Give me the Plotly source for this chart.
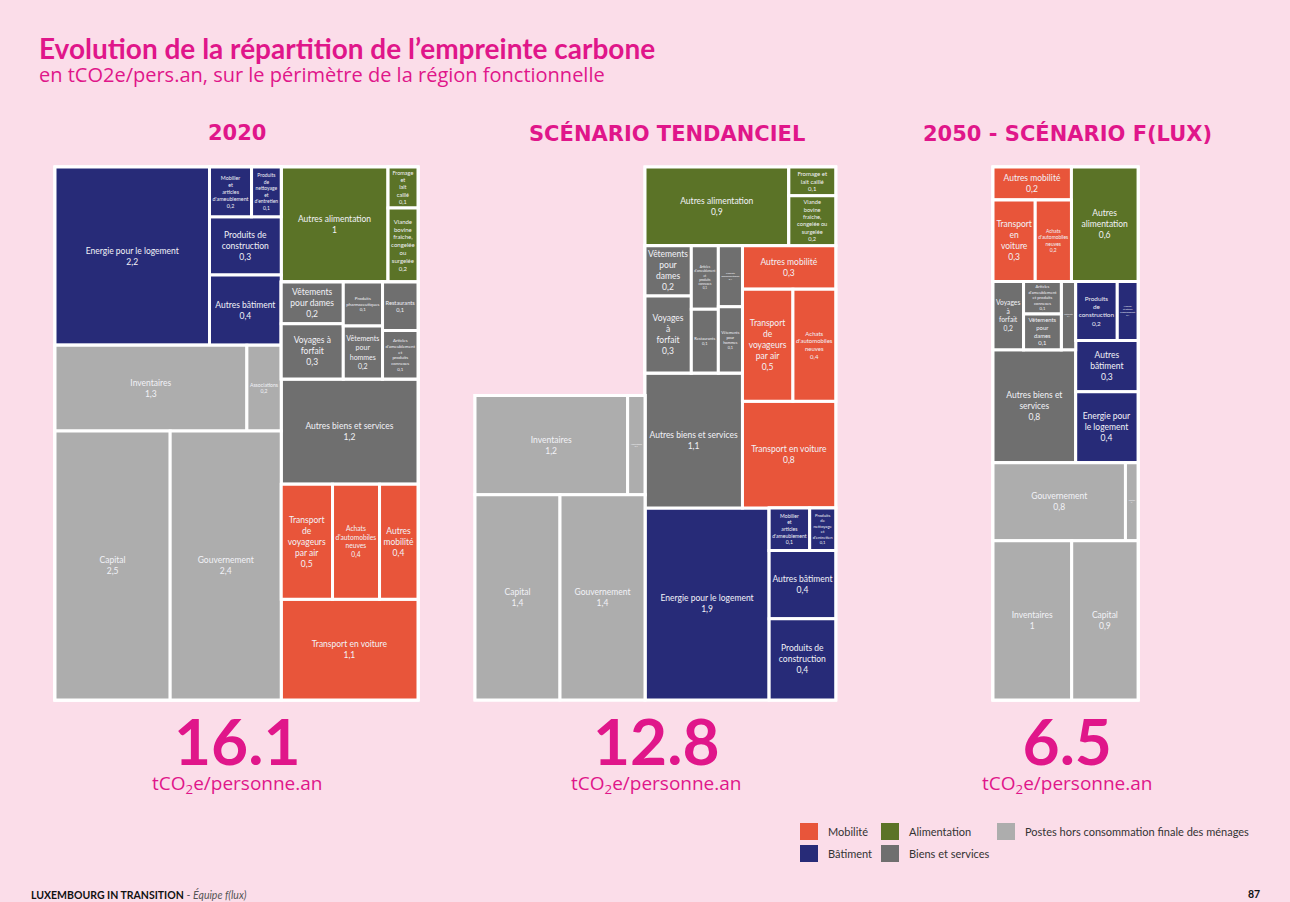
import plotly.graph_objects as go

# ---------------- DATA ----------------
PANEL_TITLES = ["2020", "SCÉNARIO TENDANCIEL", "2050 - SCÉNARIO F(LUX)"]
PANEL_TOTALS = ["16.1", "12.8", "6.5"]

CATEGORIES = ["Mobilité", "Bâtiment", "Alimentation", "Biens et services",
              "Postes hors consommation finale des ménages"]

# 2020
LABELS_2020 = [
    "Energie pour le logement",
    "Mobilier<br>et<br>articles<br>d'ameublement",
    "Produits<br>de<br>nettoyage<br>et<br>d'entretien",
    "Produits de<br>construction",
    "Autres bâtiment",
    "Inventaires",
    "Associations",
    "Capital",
    "Gouvernement",
    "Autres alimentation",
    "Fromage<br>et<br>lait<br>caillé",
    "Viande<br>bovine<br>fraîche,<br>congelée<br>ou<br>surgelée",
    "Vêtements<br>pour dames",
    "Voyages à<br>forfait",
    "Produits<br>pharmaceutiques",
    "Vêtements<br>pour<br>hommes",
    "Restaurants",
    "Articles<br>d'ameublement<br>et<br>produits<br>connexes",
    "Autres biens et services",
    "Transport<br>de<br>voyageurs<br>par air",
    "Achats<br>d'automobiles<br>neuves",
    "Autres<br>mobilité",
    "Transport en voiture",
]
VALUES_2020 = [2.24, 0.17, 0.12, 0.34, 0.41,
               1.34, 0.24, 2.52, 2.43,
               1.0, 0.1, 0.18,
               0.21, 0.28, 0.14, 0.17, 0.14, 0.14, 1.17,
               0.48, 0.44, 0.36, 1.12]
GROUPS_2020 = ["Bâtiment"] * 5 + ["Postes"] * 4 + ["Alimentation"] * 3 + ["Biens"] * 7 + ["Mobilité"] * 4

# Scénario tendanciel (consumption part)
LABELS_TEND = [
    "Autres alimentation",
    "Fromage et<br>lait caillé",
    "Viande<br>bovine<br>fraîche,<br>congelée ou<br>surgelée",
    "Vêtements<br>pour<br>dames",
    "Voyages<br>à<br>forfait",
    "Articles<br>d'ameublement<br>et<br>produits<br>connexes",
    "Restaurants",
    "Produits<br>pharmaceutiques",
    "Vêtements<br>pour<br>hommes",
    "Autres biens et services",
    "Autres mobilité",
    "Transport<br>de<br>voyageurs<br>par air",
    "Achats<br>d'automobiles<br>neuves",
    "Transport en voiture",
    "Energie pour le logement",
    "Mobilier<br>et<br>articles<br>d'ameublement",
    "Produits<br>de<br>nettoyage<br>et<br>d'entretien",
    "Autres bâtiment",
    "Produits de<br>construction",
]
VALUES_TEND = [0.92, 0.11, 0.19,
               0.19, 0.29, 0.14, 0.14, 0.12, 0.13, 1.07,
               0.33, 0.46, 0.39, 0.81,
               1.94, 0.14, 0.09, 0.37, 0.44]
GROUPS_TEND = ["Alimentation"] * 3 + ["Biens"] * 7 + ["Mobilité"] * 4 + ["Bâtiment"] * 5

# Scénario tendanciel (postes hors consommation finale)
LABELS_TEND_P = ["Inventaires", "Associations", "Capital", "Gouvernement"]
VALUES_TEND_P = [1.23, 0.14, 1.42, 1.42]
GROUPS_TEND_P = ["Postes"] * 4

# 2050 - scénario F(lux)
LABELS_2050 = [
    "Autres mobilité",
    "Transport<br>en<br>voiture",
    "Achats<br>d'automobiles<br>neuves",
    "Autres<br>alimentation",
    "Voyages<br>à<br>forfait",
    "Articles<br>d'ameublement<br>et produits<br>connexes",
    "Vêtements<br>pour<br>dames",
    "Restaurants",
    "Autres biens et<br>services",
    "Produits<br>de<br>construction",
    "Mobilier<br>et articles<br>d'ameublement",
    "Autres<br>bâtiment",
    "Energie pour<br>le logement",
    "Gouvernement",
    "Associations",
    "Inventaires",
    "Capital",
]
VALUES_2050 = [0.21, 0.28, 0.24,
               0.62,
               0.17, 0.1, 0.11, 0.08, 0.76,
               0.2, 0.1, 0.26, 0.36,
               0.84, 0.08, 1.02, 0.86]
GROUPS_2050 = ["Mobilité"] * 3 + ["Alimentation"] + ["Biens"] * 5 + ["Bâtiment"] * 4 + ["Postes"] * 4

# nesting of the tiles (indices into the lists above); split direction alternates by depth
STRUCT_2020 = [
    [[0, [[1, 2], 3, 4]], [[[5, 6], [7, 8]]]],
    [[9, [10, 11]], [[[[12, 13], [14, 15], [16, 17]], 18]], [[[19, 20, 21], 22]]],
]
STRUCT_TEND = [
    [0, [1, 2]],
    [[[[3, 4], [5, 6], [7, 8]], 9], [10, [11, 12], 13]],
    [14, [[15, 16], 17, 18]],
]
STRUCT_TEND_P = [[0, 1], [2, 3]]
STRUCT_2050 = [
    [[0, [1, 2]], [3]],
    [[[4, [5, 6], 7], 8], [[9, 10], 11, 12]],
    [[[13, 14], [15, 16]]],
]

# ---------------- STYLE ----------------
BG = "#fbdde9"
MAGENTA = "#e0168a"
COLORS = {
    "Mobilité": "#e8553a",
    "Bâtiment": "#272b78",
    "Alimentation": "#5b7327",
    "Biens": "#6f6f6f",
    "Postes": "#adadad",
}
LEGEND_COLORS = [COLORS["Mobilité"], COLORS["Bâtiment"], COLORS["Alimentation"],
                 COLORS["Biens"], COLORS["Postes"]]
FONT = "Lato"
FIG_W, FIG_H = 1290, 902
TOP, BOTTOM = 167, 700
W2020 = 363


def fmt(v):
    s = f"{v:.1f}"
    if s.endswith(".0"):
        s = s[:-2]
    return s.replace(".", ",")


def build(struct, labels, values, groups, root):
    ids, parents, labs, vals, cols, texts, tmpl = [root], [""], [""], [0], ["rgba(0,0,0,0)"], [""], [""]
    counter = [0]

    def rec(node, pid):
        if isinstance(node, int):
            ids.append(f"{root}-{node}")
            parents.append(pid)
            labs.append(labels[node])
            vals.append(values[node])
            cols.append(COLORS[groups[node]])
            texts.append(fmt(values[node]))
            tmpl.append("%{label}<br>%{text}")
        else:
            counter[0] += 1
            nid = f"{root}-g{counter[0]}"
            ids.append(nid)
            parents.append(pid)
            labs.append("")
            vals.append(0)
            cols.append("rgba(0,0,0,0)")
            texts.append("")
            tmpl.append("")
            for ch in node:
                rec(ch, nid)

    for ch in struct:
        rec(ch, root)
    return ids, parents, labs, vals, cols, texts, tmpl


def treemap(struct, labels, values, groups, root, x0, x1, y0, y1, first):
    ids, parents, labs, vals, cols, texts, tmpl = build(struct, labels, values, groups, root)
    return go.Treemap(
        ids=ids, parents=parents, labels=labs, values=vals, text=texts,
        texttemplate=tmpl, textposition="middle center",
        textfont=dict(family=FONT, size=8.5, color="#f2f2f7"),
        marker=dict(colors=cols, line=dict(color="white", width=3),
                    pad=dict(t=0, l=0, r=0, b=0), depthfade=False),
        tiling=dict(packing="slice-dice" if first == "h" else "dice-slice", pad=0),
        sort=False, branchvalues="remainder", pathbar=dict(visible=False),
        root=dict(color="rgba(0,0,0,0)"), hoverinfo="skip",
        domain=dict(x=[x0 / FIG_W, x1 / FIG_W], y=[1 - y1 / FIG_H, 1 - y0 / FIG_H]),
    )


H = BOTTOM - TOP
k = W2020 / sum(VALUES_2020)  # px of width per tCO2e at full panel height

fig = go.Figure()
# 2020
x0 = 55
fig.add_trace(treemap(STRUCT_2020, LABELS_2020, VALUES_2020, GROUPS_2020, "a",
                      x0, x0 + W2020, TOP, BOTTOM, "h"))
# tendanciel
xr = 645
wr = k * sum(VALUES_TEND)
fig.add_trace(treemap(STRUCT_TEND, LABELS_TEND, VALUES_TEND, GROUPS_TEND, "b",
                      xr, xr + wr, TOP, BOTTOM, "v"))
wl = 170
hl = k * H * sum(VALUES_TEND_P) / wl
fig.add_trace(treemap(STRUCT_TEND_P, LABELS_TEND_P, VALUES_TEND_P, GROUPS_TEND_P, "c",
                      xr - wl, xr, BOTTOM - hl, BOTTOM, "v"))
# 2050
x3 = 993
w3 = k * sum(VALUES_2050)
fig.add_trace(treemap(STRUCT_2050, LABELS_2050, VALUES_2050, GROUPS_2050, "d",
                      x3, x3 + w3, TOP, BOTTOM, "v"))

ann = []


def text(x, y, s, size, color=MAGENTA, xanchor="left", yanchor="middle", bold=False, family=FONT):
    ann.append(dict(x=x / FIG_W, y=1 - y / FIG_H, xref="paper", yref="paper",
                    text=f"<b>{s}</b>" if bold else s, showarrow=False,
                    xanchor=xanchor, yanchor=yanchor,
                    font=dict(family=family, size=size, color=color)))


text(37, 48, "Evolution de la répartition de l’empreinte carbone", 28, bold=True)
text(37, 75, "en tCO2e/pers.an, sur le périmètre de la région fonctionnelle", 20,
     family="Open Sans")

centers = [237, 667, 1067]
num_centers = [237, 656, 1067]
for c, nc, t, tot in zip(centers, num_centers, PANEL_TITLES, PANEL_TOTALS):
    text(c, 133, t, 21, xanchor="center", bold=True, family="DejaVu Sans")
    text(nc, 800,
         f"<span style='font-family:Lato;font-size:64px'><b>{tot}</b></span>"
         f"<br>tCO<sub>2</sub>e/personne.an",
         19, xanchor="center", yanchor="bottom", family="Open Sans")

# legend
shapes = []
legend_pos = [(800, 831), (800, 853), (881, 831), (881, 853), (997, 831)]
for (lx, ly), col, name in zip(legend_pos, LEGEND_COLORS, CATEGORIES):
    shapes.append(dict(type="rect", xref="paper", yref="paper",
                       x0=lx / FIG_W, x1=(lx + 18) / FIG_W,
                       y0=1 - (ly + 9) / FIG_H, y1=1 - (ly - 8) / FIG_H,
                       fillcolor=col, line=dict(width=0)))
    text(lx + 26, ly, name, 11, color="#333333")

# footer
text(29, 894, "<b>LUXEMBOURG IN TRANSITION</b> <span style='color:#555'>- <i>Équipe f(lux)</i></span>",
     10.5, color="#111111")
text(1262, 894, "87", 10.5, color="#111111", xanchor="right", bold=True)

fig.update_layout(
    width=FIG_W, height=FIG_H, margin=dict(l=0, r=0, t=0, b=0),
    paper_bgcolor=BG, plot_bgcolor=BG, annotations=ann, shapes=shapes,
    showlegend=False, font=dict(family=FONT),
)

fig.write_html("out.html", config={"displayModeBar": False},
               post_script="document.body.style.margin='0';"
                           "document.body.style.background='" + BG + "';")
